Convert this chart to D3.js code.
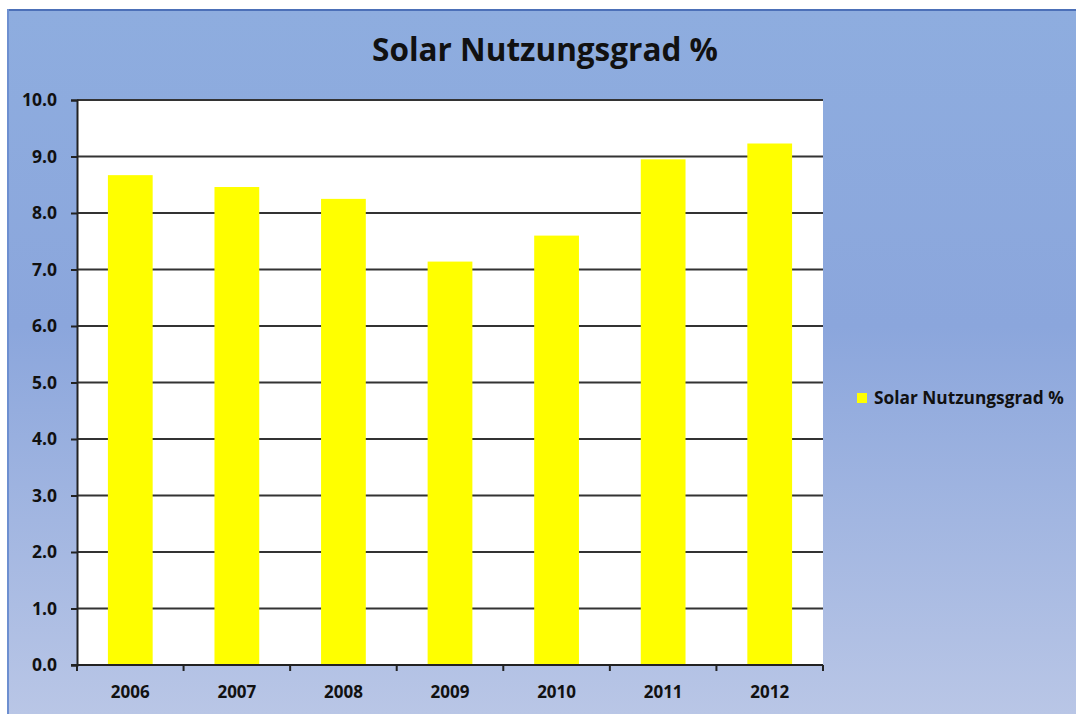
<!DOCTYPE html>
<html>
<head>
<meta charset="utf-8">
<script src="https://cdn.jsdelivr.net/npm/d3@7"></script>
<style>
  body { margin: 0; background: #fff; }
  text { font-family: "Open Sans", "DejaVu Sans", sans-serif; font-weight: bold; }
</style>
</head>
<body>
<svg width="1076" height="714"></svg>
<script>
const years = ['2006', '2007', '2008', '2009', '2010', '2011', '2012'];
const values = [8.67, 8.46, 8.25, 7.14, 7.6, 8.95, 9.23];
const yTicks = [0, 1, 2, 3, 4, 5, 6, 7, 8, 9, 10];
const seriesName = 'Solar Nutzungsgrad %';

const svg = d3.select('svg');
const width = +svg.attr('width');
const height = +svg.attr('height');

const defs = svg.append('defs');
const grad = defs.append('linearGradient')
    .attr('id', 'bg')
    .attr('x1', 0).attr('y1', 0).attr('x2', 0).attr('y2', 1);
grad.append('stop').attr('offset', '0%').attr('stop-color', '#8eaddf');
grad.append('stop').attr('offset', '45%').attr('stop-color', '#8ba6dc');
grad.append('stop').attr('offset', '100%').attr('stop-color', '#b9c6e6');

// background + frame
svg.append('rect')
    .attr('x', 7).attr('y', 9)
    .attr('width', width - 7).attr('height', height - 9)
    .attr('fill', 'url(#bg)');
svg.append('line')
    .attr('x1', 7).attr('x2', width).attr('y1', 10).attr('y2', 10)
    .attr('stroke', '#4c70b8').attr('stroke-width', 2);
svg.append('line')
    .attr('x1', 8).attr('x2', 8).attr('y1', 9).attr('y2', height)
    .attr('stroke', '#6d8fd0').attr('stroke-width', 2);

const plot = { left: 77, top: 100, right: 823, bottom: 665 };

const x = d3.scaleBand()
    .domain(years)
    .range([plot.left, plot.right])
    .paddingInner(0.58)
    .paddingOuter(0.29);

const xBoundary = d3.scaleBand()
    .domain(years)
    .range([plot.left, plot.right]);

const y = d3.scaleLinear()
    .domain([0, 10])
    .range([plot.bottom, plot.top]);

svg.append('rect')
    .attr('x', plot.left).attr('y', plot.top)
    .attr('width', plot.right - plot.left)
    .attr('height', plot.bottom - plot.top)
    .attr('fill', '#fff');

// gridlines
svg.append('g')
    .selectAll('line')
    .data(yTicks.filter(d => d > 0))
    .join('line')
    .attr('x1', plot.left).attr('x2', plot.right)
    .attr('y1', d => y(d)).attr('y2', d => y(d))
    .attr('stroke', '#333')
    .attr('stroke-width', 2);

// bars
svg.append('g')
    .selectAll('rect')
    .data(values)
    .join('rect')
    .attr('x', (d, i) => x(years[i]))
    .attr('y', d => y(d))
    .attr('width', x.bandwidth())
    .attr('height', d => y(0) - y(d))
    .attr('fill', '#ffff00');

// y axis
const yAxis = svg.append('g')
    .attr('transform', `translate(${plot.left},0)`)
    .call(d3.axisLeft(y).tickValues(yTicks).tickSize(6).tickPadding(14).tickFormat(d3.format('.1f')));
yAxis.selectAll('path, line').attr('stroke', '#222').attr('stroke-width', 2);
yAxis.selectAll('text').attr('font-size', 17.5).attr('fill', '#111').attr('dy', '0.34em');

// x axis
const xAxis = svg.append('g')
    .attr('transform', `translate(0,${plot.bottom})`)
    .call(d3.axisBottom(x).tickSize(0).tickPadding(21));
xAxis.select('path').remove();
xAxis.selectAll('text').attr('font-size', 17).attr('fill', '#111');

svg.append('line')
    .attr('x1', plot.left - 6).attr('x2', plot.right)
    .attr('y1', plot.bottom).attr('y2', plot.bottom)
    .attr('stroke', '#222').attr('stroke-width', 2);

svg.append('g')
    .selectAll('line')
    .data(years.concat(['end']))
    .join('line')
    .attr('x1', d => d === 'end' ? plot.right : xBoundary(d))
    .attr('x2', d => d === 'end' ? plot.right : xBoundary(d))
    .attr('y1', plot.bottom).attr('y2', plot.bottom + 6)
    .attr('stroke', '#222').attr('stroke-width', 2);

// title
svg.append('text')
    .attr('x', 545).attr('y', 61)
    .attr('text-anchor', 'middle')
    .attr('font-size', 31.5)
    .attr('fill', '#111')
    .text(seriesName);

// legend
svg.append('rect')
    .attr('x', 857).attr('y', 393)
    .attr('width', 10).attr('height', 10)
    .attr('fill', '#ffff00');
svg.append('text')
    .attr('x', 874).attr('y', 404)
    .attr('font-size', 17.3)
    .attr('fill', '#111')
    .text(seriesName);
</script>
</body>
</html>
